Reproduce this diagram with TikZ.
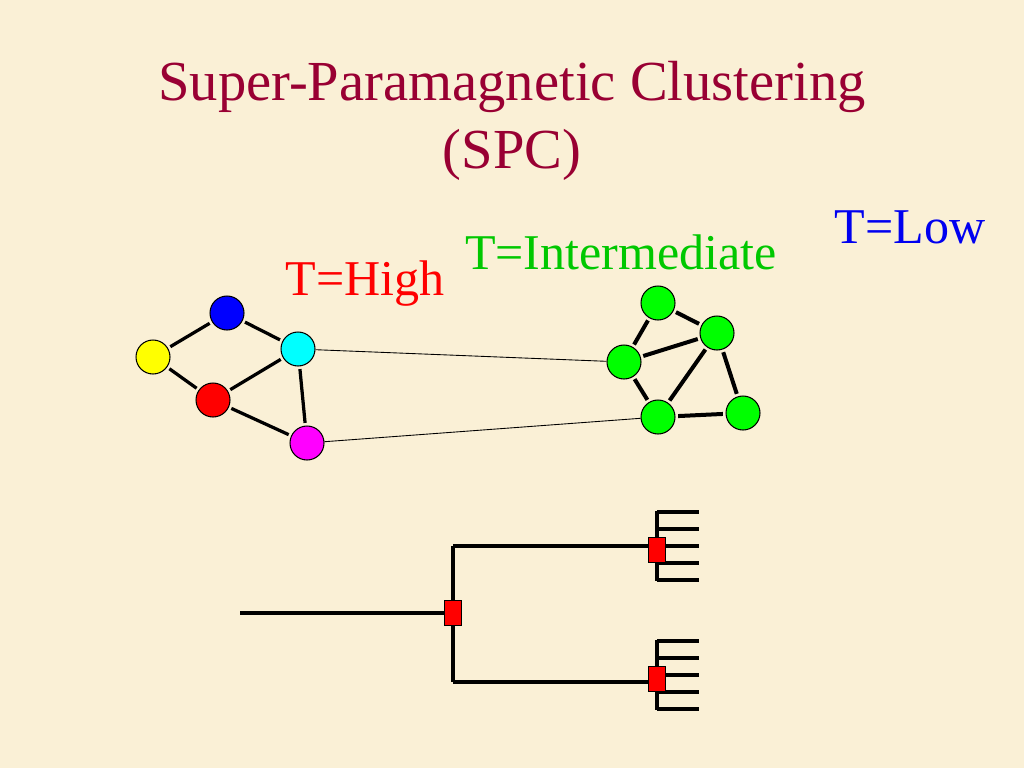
\documentclass[tikz,border=0pt]{standalone}
\usepackage{fontspec}
\setmainfont{Liberation Serif}
\usepackage{xcolor}
\usetikzlibrary{positioning, calc}
\definecolor{slideBg}{HTML}{FAF0D6}
\definecolor{titleRed}{HTML}{990033}
\definecolor{labelGreen}{HTML}{00C800}
\definecolor{labelBlue}{HTML}{0000F0}
\definecolor{spinBlue}{HTML}{0000FF}
\definecolor{spinYellow}{HTML}{FFFF00}
\definecolor{spinCyan}{HTML}{00FFFF}
\definecolor{spinRed}{HTML}{FF0000}
\definecolor{spinMagenta}{HTML}{FF00FF}
\definecolor{spinGreen}{HTML}{00FF00}

\begin{document}
\begin{tikzpicture}[x=0.02cm, y=-0.02cm,
        every node/.style={font=\fontsize{28.5}{34}\selectfont},
        spin/.style={circle, draw=black, line width=0.6pt, minimum size=0.68cm, inner sep=0pt},
        bond/.style={line width=0.065cm, black, shorten <=1.5pt, shorten >=1.5pt},
        strongbond/.style={line width=0.08cm, black, shorten <=1.5pt, shorten >=1.5pt},
        link/.style={line width=0.5pt, black},
        branch/.style={line width=0.08cm, black},
        split/.style={rectangle, draw=black, line width=0.5pt, fill=spinRed,
                      minimum width=0.34cm, minimum height=0.5cm, inner sep=0pt},
      ]
        % Background
        \fill[slideBg] (0,0) rectangle (1024,768);
        \useasboundingbox (0,0) rectangle (1024,768);

        % Title
        \node[anchor=base, text=titleRed, font=\fontsize{32.2}{38}\selectfont] (title) at (512,100) {Super-Paramagnetic Clustering};
        \node[anchor=base, text=titleRed, font=\fontsize{32.2}{38}\selectfont] (spc) at (512,168) {(SPC)};

        % Temperature labels
        \node[anchor=base, text=spinRed] (thigh) at (365,295) {T=High};
        \node[anchor=base, text=labelGreen] (tmid) at (621,269) {T=Intermediate};
        \node[anchor=base, text=labelBlue] (tlow) at (910,243) {T=Low};

        % High temperature graph
        \node[spin, fill=spinBlue] (sb) at (227,313) {};
        \node[spin, fill=spinYellow] (sy) at (153,357) {};
        \node[spin, fill=spinCyan] (sc) at (298,349) {};
        \node[spin, fill=spinRed] (sr) at (213,400) {};
        \node[spin, fill=spinMagenta] (sm) at (307,443) {};
        \draw[bond] (sy) -- (sb);
        \draw[bond] (sb) -- (sc);
        \draw[bond] (sy) -- (sr);
        \draw[bond] (sr) -- (sc);
        \draw[bond] (sr) -- (sm);
        \draw[bond] (sc) -- (sm);

        % Intermediate temperature graph
        \node[spin, fill=spinGreen] (g1) at (658,303) {};
        \node[spin, fill=spinGreen] (g2) at (717,333) {};
        \node[spin, fill=spinGreen] (g3) at (624,362) {};
        \node[spin, fill=spinGreen] (g4) at (658,417) {};
        \node[spin, fill=spinGreen] (g5) at (743,413) {};
        \draw[strongbond] (g1) -- (g2);
        \draw[strongbond] (g1) -- (g3);
        \draw[strongbond] (g3) -- (g2);
        \draw[strongbond] (g3) -- (g4);
        \draw[strongbond] (g4) -- (g2);
        \draw[strongbond] (g2) -- (g5);
        \draw[strongbond] (g4) -- (g5);

        \draw[link] (sc) -- (g3);
        \draw[link] (sm) -- (g4);

        % Dendrogram
        \coordinate (root) at (240,613);
        \coordinate (fork) at (453,613);
        \coordinate (top) at (453,546);
        \coordinate (bot) at (453,682);
        \coordinate (ctop) at (657,546);
        \coordinate (cbot) at (657,682);
        \draw[branch] (root) -- (fork);
        \draw[branch] (top) -- (bot);
        \draw[branch] (top) -- (ctop);
        \draw[branch] (bot) -- (cbot);
        % upper comb
        \foreach \i/\y in {1/512,2/529,3/546,4/563,5/580} {
          \coordinate (ua\i) at (657,\y);
          \coordinate (ub\i) at (699,\y);
          \draw[branch] (ua\i) -- (ub\i);
        }
        \draw[branch] ($(ua1)+(0,-1)$) -- ($(ua5)+(0,1)$);
        % lower comb
        \foreach \i/\y in {1/641,2/658,3/675,4/692,5/709} {
          \coordinate (la\i) at (657,\y);
          \coordinate (lb\i) at (699,\y);
          \draw[branch] (la\i) -- (lb\i);
        }
        \draw[branch] ($(la1)+(0,-1)$) -- ($(la5)+(0,1)$);

        \node[split] (nroot) at (fork) {};
        \node[split] (ntop) at (657,550) {};
        \node[split] (nbot) at (657,679) {};
      \end{tikzpicture}
\end{document}
